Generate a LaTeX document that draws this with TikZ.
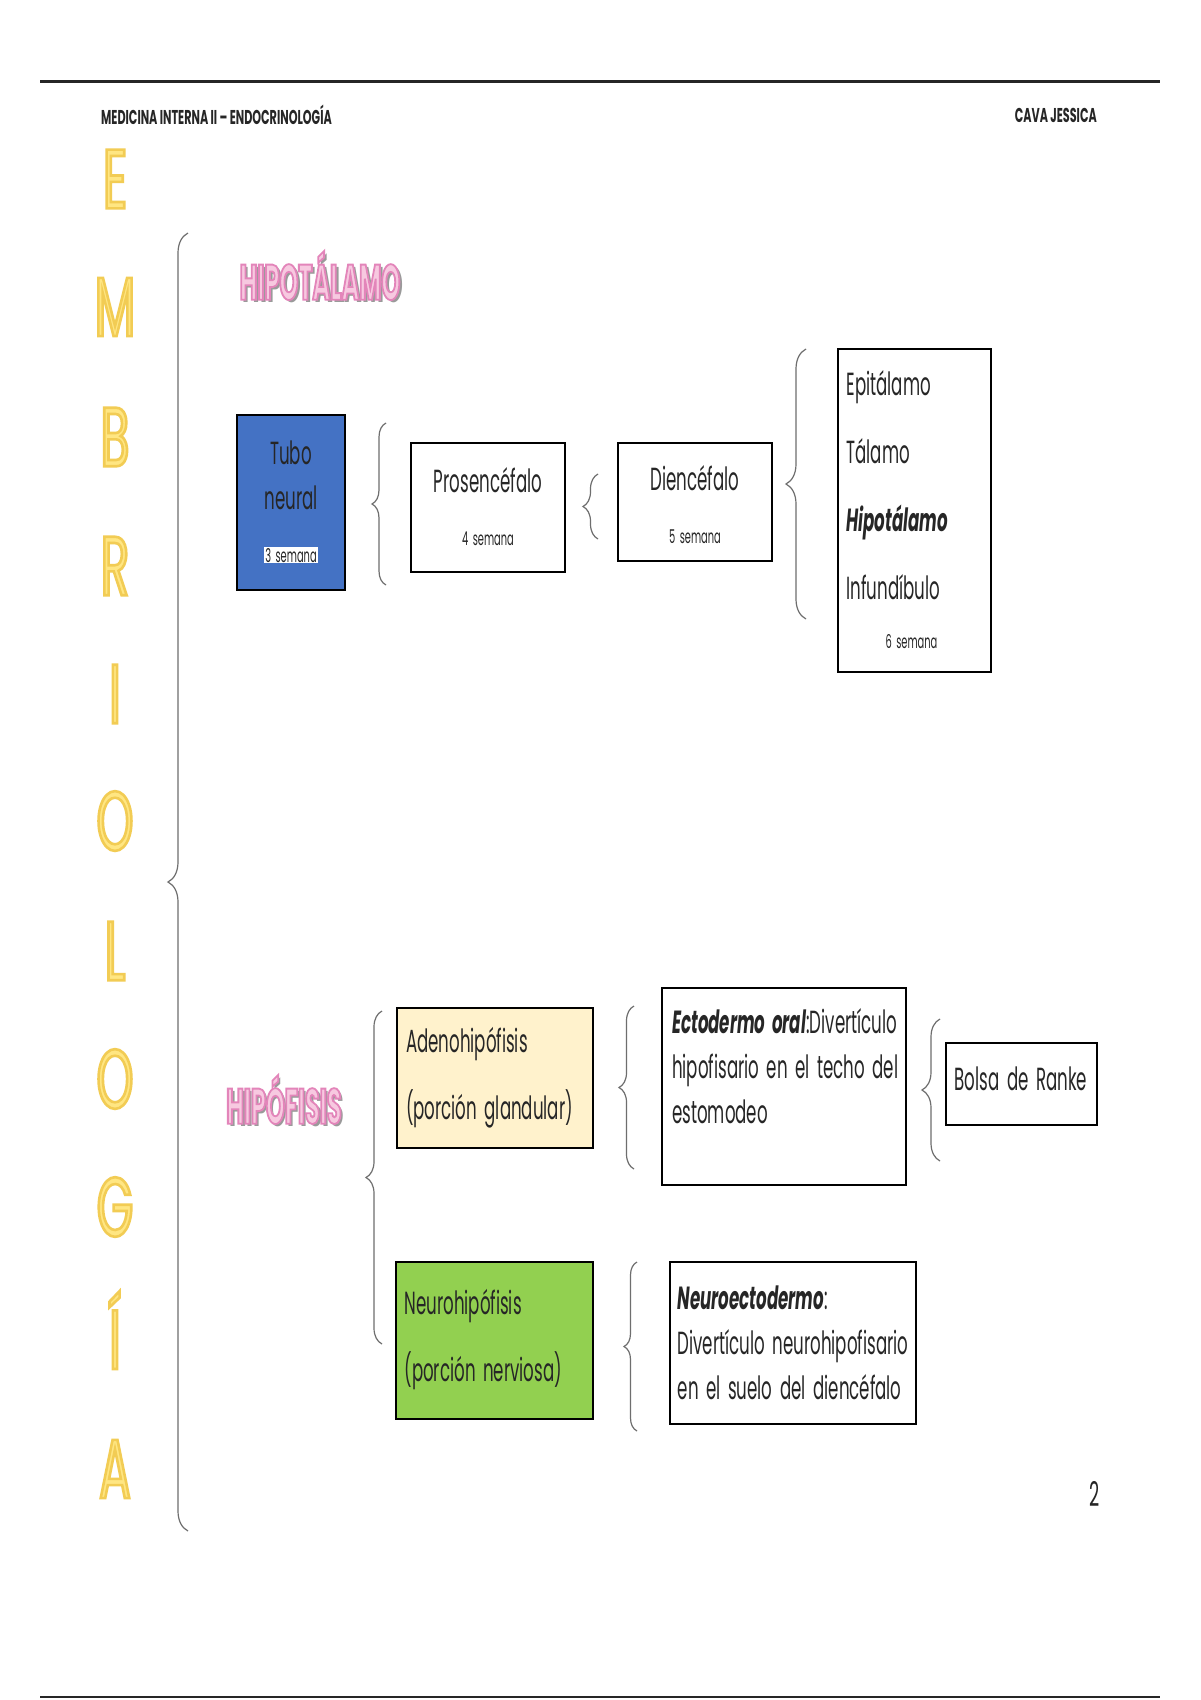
\documentclass[tikz,border=0pt]{standalone}
\usepackage{fontspec}
\setmainfont[FakeStretch=0.52, WordSpace=1.7]{Poppins}
\newfontfamily\titlefont[FakeStretch=0.48]{Poppins}
\newfontfamily\letterfont[FakeStretch=0.56]{Poppins}
\newfontfamily\headfont[FakeStretch=0.56]{Poppins}
\usetikzlibrary{decorations.pathreplacing}
\definecolor{tuboblue}{HTML}{4472C4}
\definecolor{glandcream}{HTML}{FFF2CC}
\definecolor{nervgreen}{HTML}{92D050}
\definecolor{letterfill}{HTML}{FFE682}
\definecolor{titlefill}{HTML}{F7C9E0}
\definecolor{titleshadow}{HTML}{9A9A9A}
\definecolor{bracegray}{HTML}{6E6E6E}
\definecolor{inkgray}{HTML}{262626}
\newcommand{\boxfont}{\fontsize{32}{45}\selectfont}
\newcommand{\weekfont}{\fontsize{19}{21}\selectfont}
\newcommand{\bigletter}[1]{\textcolor{letterfill}{\special{pdf:literal direct 0.95 0.8 0.33 RG 2.6 w 2 Tr}#1\special{pdf:literal direct 0 Tr}}}
\newcommand{\pinktitle}[1]{\makebox[0pt][l]{\hspace{3pt}\raisebox{-3pt}{\textcolor{titleshadow}{#1}}}\textcolor{titlefill}{\special{pdf:literal direct 0.89 0.52 0.73 RG 1.8 w 2 Tr}#1\special{pdf:literal direct 0 Tr}}}

\begin{document}
\begin{tikzpicture}[x=1pt, y=-1pt,
    every node/.style={text=inkgray},
    box/.style={draw=black, line width=2pt, inner xsep=9pt, inner ysep=0pt, font=\boxfont},
    brc/.style={draw=bracegray, line width=1.2pt, decorate, decoration={brace, amplitude=#1}},
    letter/.style={font=\letterfont\fontsize{84}{84}\selectfont},
    heading/.style={font=\titlefont\bfseries\fontsize{50}{50}\selectfont},
    header/.style={inner sep=0pt, font=\headfont\bfseries\fontsize{20}{22}\selectfont}]
    \fill[white] (0,0) rectangle (1200,1700);
    \useasboundingbox (0,0) rectangle (1200,1700);
    \draw[line width=3pt, black!85] (40,81) -- (1160,81);
    \draw[line width=2pt, black!85] (40,1697) -- (1160,1697);
    \node(course)[header, anchor=west] at (101,115) {MEDICINA INTERNA II – ENDOCRINOLOGÍA};
    \node(author)[header, anchor=east] at (1097,115) {CAVA JESSICA};
    \node(l1)[letter] at (115,179) {\bigletter{E}};
    \node(l2)[letter] at (115,307) {\bigletter{M}};
    \node(l3)[letter] at (115,437) {\bigletter{B}};
    \node(l4)[letter] at (115,566) {\bigletter{R}};
    \node(l5)[letter] at (115,694) {\bigletter{I}};
    \node(l6)[letter] at (115,821) {\bigletter{O}};
    \node(l7)[letter] at (115,951) {\bigletter{L}};
    \node(l8)[letter] at (115,1079) {\bigletter{O}};
    \node(l9)[letter] at (115,1207) {\bigletter{G}};
    \node(l10)[letter] at (115,1330) {\bigletter{Í}};
    \node(l11)[letter] at (115,1469) {\bigletter{A}};
    \draw[brc=20] (188,1531) -- (188,233);
    \node(hipot)[heading] at (320,277) {\pinktitle{HIPOTÁLAMO}};
    \node(tubo)[box, fill=tuboblue, minimum width=108, minimum height=175, align=flush center] at (291,502) {Tubo\\neural\\[8pt]{\setlength{\fboxsep}{1pt}\colorbox{white}{\weekfont 3 semana}}};
    \draw[brc=14] (386,585) -- (386,423);
    \node(prosen)[box, minimum width=154, minimum height=129, align=flush center] at (488,507) {Prosencéfalo\\[8pt]{\weekfont 4 semana}};
    \draw[brc=15] (598,539) -- (598,474);
    \node(dien)[box, minimum width=154, minimum height=118, align=flush center] at (695,502) {\rule{0pt}{30pt}Diencéfalo\\[8pt]{\weekfont 5 semana}};
    \draw[brc=20] (806,619) -- (806,349);
    \node(parts)[box, minimum height=323, text width=135, align=flush left, font=\fontsize{32}{68}\selectfont] at (914,510) {Epitálamo\\Tálamo\\\textbf{\textit{Hipotálamo}}\\Infundíbulo\\[-19pt]\hspace*{39pt}{\weekfont 6 semana}};
    \node(hipof)[heading] at (284,1101) {\pinktitle{HIPÓFISIS}};
    \draw[brc=16] (382,1344) -- (382,1011);
    \node(adeno)[box, fill=glandcream, minimum height=140, text width=178, align=flush left] at (495,1078) {Adenohipófisis\\[22pt](porción glandular)};
    \node(neuro)[box, fill=nervgreen, minimum height=157, text width=179, align=flush left] at (494,1340) {Neurohipófisis\\[22pt](porción nerviosa)};
    \draw[brc=15] (634,1169) -- (634,1006);
    \node(ecto)[box, minimum width=244, minimum height=197] at (784,1086) {};
    \node(ectotxt)[anchor=north west, inner sep=0pt, align=flush left, font=\boxfont] at ([xshift=11pt, yshift=-22pt]ecto.north west) {\textbf{\textit{Ectodermo oral}}:Divertículo\\hipofisario en el techo del\\estomodeo};
    \draw[brc=18] (940,1161) -- (940,1019);
    \node(ranke)[box, minimum width=151, minimum height=82] at (1021,1084) {\raisebox{5pt}[\height][\depth]{Bolsa de Ranke}};
    \draw[brc=13] (637,1431) -- (637,1262);
    \node(neuroecto)[box, minimum width=246, minimum height=162, inner xsep=4pt, align=flush left] at (793,1343) {\textbf{\textit{Neuroectodermo}}:\\Divertículo neurohipofisario\\en el suelo del diencéfalo};
    \node(pagenum)[font=\fontsize{34}{34}\selectfont] at (1095,1494) {2};
\end{tikzpicture}
\end{document}
